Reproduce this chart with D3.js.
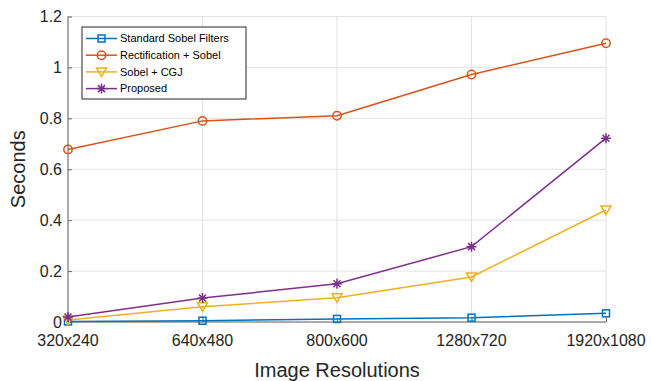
<!DOCTYPE html>
<html>
<head>
<meta charset="utf-8">
<script src="https://cdn.jsdelivr.net/npm/d3@7"></script>
<style>
  body { margin: 0; background: #fff; }
  svg { font-family: "Liberation Sans", Arial, sans-serif; }
</style>
</head>
<body>
<div id="chart"></div>
<script>
const resolutions = ["320x240", "640x480", "800x600", "1280x720", "1920x1080"]
const yTicks = [0, 0.2, 0.4, 0.6, 0.8, 1, 1.2]

const sobelValues = [0.002, 0.005, 0.012, 0.017, 0.034]
const rectificationValues = [0.678, 0.79, 0.81, 0.972, 1.095]
const cgjValues = [0.008, 0.06, 0.095, 0.177, 0.44]
const proposedValues = [0.02, 0.094, 0.15, 0.296, 0.722]

const seriesNames = ["Standard Sobel Filters", "Rectification + Sobel", "Sobel + CGJ", "Proposed"]
const seriesColors = ["#0072BD", "#D95319", "#EDB120", "#7E2F8E"]
const seriesMarkers = ["square", "circle", "triangle", "asterisk"]

const series = [sobelValues, rectificationValues, cgjValues, proposedValues].map((values, i) => ({
  name: seriesNames[i],
  color: seriesColors[i],
  marker: seriesMarkers[i],
  values: values
}))

const width = 651
const height = 381
const margin = { top: 16.5, right: 45, bottom: 59, left: 68 }

const svg = d3.select("#chart")
  .append("svg")
  .attr("width", width)
  .attr("height", height)

const x = d3.scalePoint()
  .domain(resolutions)
  .range([margin.left, width - margin.right])

const y = d3.scaleLinear()
  .domain([0, 1.2])
  .range([height - margin.bottom, margin.top])

// grid
svg.append("g")
  .attr("stroke", "#e3e3e3")
  .attr("stroke-width", 1)
  .selectAll("line.h")
  .data(yTicks)
  .join("line")
  .attr("x1", margin.left)
  .attr("x2", width - margin.right)
  .attr("y1", d => y(d))
  .attr("y2", d => y(d))

svg.append("g")
  .attr("stroke", "#e3e3e3")
  .attr("stroke-width", 1)
  .selectAll("line.v")
  .data(resolutions)
  .join("line")
  .attr("x1", d => x(d))
  .attr("x2", d => x(d))
  .attr("y1", margin.top)
  .attr("y2", height - margin.bottom)

// axes
const yAxis = svg.append("g")
  .attr("transform", `translate(${margin.left},0)`)
  .call(d3.axisRight(y).tickValues(yTicks).tickFormat(d3.format("")).tickSize(4))
yAxis.selectAll("text").remove()
yAxis.select(".domain").attr("stroke", "#666").attr("d", `M0,${margin.top}V${height - margin.bottom}`)
yAxis.selectAll(".tick line").attr("stroke", "#666")

svg.append("g")
  .selectAll("text")
  .data(yTicks)
  .join("text")
  .attr("x", margin.left - 6)
  .attr("y", d => y(d))
  .attr("dy", "0.35em")
  .attr("text-anchor", "end")
  .attr("font-size", 16)
  .attr("fill", "#262626")
  .text(d => d3.format("")(d))

const xAxis = svg.append("g")
  .attr("transform", `translate(0,${height - margin.bottom})`)
  .call(d3.axisTop(x).tickSize(4))
xAxis.selectAll("text").remove()
xAxis.select(".domain").attr("stroke", "#666").attr("d", `M${margin.left},0H${width - margin.right}`)
xAxis.selectAll(".tick line").attr("stroke", "#666")

svg.append("g")
  .selectAll("text")
  .data(resolutions)
  .join("text")
  .attr("x", d => x(d))
  .attr("y", height - margin.bottom + 24)
  .attr("text-anchor", "middle")
  .attr("font-size", 16)
  .attr("fill", "#262626")
  .text(d => d)

// axis titles
svg.append("text")
  .attr("x", (margin.left + width - margin.right) / 2)
  .attr("y", 377)
  .attr("text-anchor", "middle")
  .attr("font-size", 20)
  .attr("fill", "#262626")
  .text("Image Resolutions")

svg.append("text")
  .attr("transform", `translate(25,${(margin.top + height - margin.bottom) / 2}) rotate(-90)`)
  .attr("text-anchor", "middle")
  .attr("font-size", 20)
  .attr("fill", "#262626")
  .text("Seconds")

function drawMarker(g, type, color) {
  if (type === "square") {
    g.append("rect").attr("x", -3.5).attr("y", -3.5).attr("width", 7).attr("height", 7)
      .attr("fill", "none").attr("stroke", color).attr("stroke-width", 1.5)
  } else if (type === "circle") {
    g.append("circle").attr("r", 4.2)
      .attr("fill", "none").attr("stroke", color).attr("stroke-width", 1.5)
  } else if (type === "triangle") {
    g.append("path").attr("d", "M-5,-4L5,-4L0,4.5Z")
      .attr("fill", "none").attr("stroke", color).attr("stroke-width", 1.5)
  } else {
    g.append("path").attr("d", "M-5,0H5M0,-5V5M-3.5,-3.5L3.5,3.5M-3.5,3.5L3.5,-3.5")
      .attr("fill", "none").attr("stroke", color).attr("stroke-width", 1.5)
  }
}

const line = d3.line()
  .x((d, i) => x(resolutions[i]))
  .y(d => y(d))

series.forEach(s => {
  svg.append("path")
    .datum(s.values)
    .attr("d", line)
    .attr("fill", "none")
    .attr("stroke", s.color)
    .attr("stroke-width", 1.5)

  s.values.forEach((v, i) => {
    const g = svg.append("g").attr("transform", `translate(${x(resolutions[i])},${y(v)})`)
    drawMarker(g, s.marker, s.color)
  })
})

// legend
const legend = svg.append("g").attr("transform", "translate(82,27)")
legend.append("rect")
  .attr("width", 164)
  .attr("height", 72)
  .attr("fill", "#fff")
  .attr("stroke", "#262626")
  .attr("stroke-width", 1)

series.forEach((s, i) => {
  const row = legend.append("g").attr("transform", `translate(0,${11.5 + i * 16.7})`)
  row.append("line")
    .attr("x1", 4).attr("x2", 35)
    .attr("stroke", s.color).attr("stroke-width", 1.5)
  const m = row.append("g").attr("transform", "translate(19.5,0)")
  drawMarker(m, s.marker, s.color)
  row.append("text")
    .attr("x", 38)
    .attr("dy", "0.35em")
    .attr("font-size", 11)
    .attr("fill", "#000")
    .text(s.name)
})
</script>
</body>
</html>
